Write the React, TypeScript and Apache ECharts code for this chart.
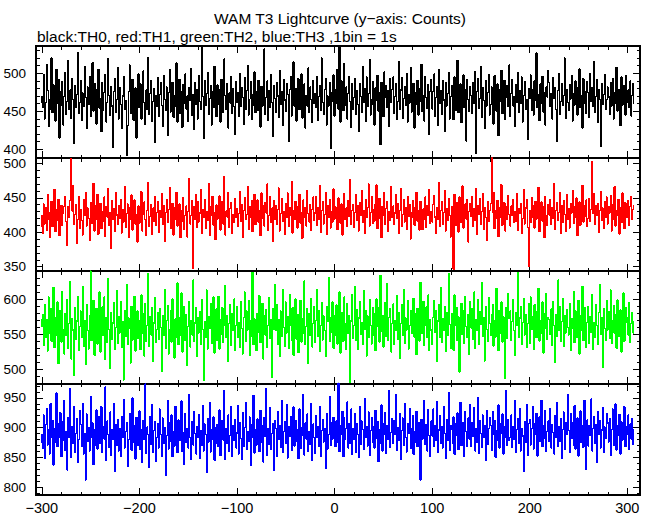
import React, { useEffect, useRef } from "react";
import * as echarts from "echarts";

// ---- time bins (1 bin = 1 s) ----
const BIN_START = -300;
const BIN_SIZE = 1;
const X_MIN = -306;
const X_MAX = 313;
const X_MAJOR = [-300, -200, -100, 0, 100, 200, 300];
const X_MINOR = [-300, -280, -260, -240, -220, -200, -180, -160, -140, -120, -100, -80, -60, -40, -20, 0, 20, 40, 60, 80, 100, 120, 140, 160, 180, 200, 220, 240, 260, 280, 300];

// ---- y tick labels per panel ----
const Y0_LABELS = [400, 450, 500];
const Y0_MINOR = [390, 400, 410, 420, 430, 440, 450, 460, 470, 480, 490, 500, 510, 520, 530];
const Y1_LABELS = [350, 400, 450, 500];
const Y1_MINOR = [350, 360, 370, 380, 390, 400, 410, 420, 430, 440, 450, 460, 470, 480, 490, 500];
const Y2_LABELS = [500, 550, 600];
const Y2_MINOR = [490, 500, 510, 520, 530, 540, 550, 560, 570, 580, 590, 600, 610, 620, 630];
const Y3_LABELS = [800, 850, 900, 950];
const Y3_MINOR = [790, 800, 810, 820, 830, 840, 850, 860, 870, 880, 890, 900, 910, 920, 930, 940, 950, 960, 970];

// ---- counts per bin ----
const TH0 = [
  470,455,498,440,462,512,478,430,466,452,520,448,485,470,437,505,460,492,415,476,
  458,489,432,470,501,446,463,517,452,478,441,493,466,408,484,455,472,527,447,461,
  490,438,474,456,509,468,427,482,459,496,443,471,514,450,487,462,433,479,505,454,
  467,423,488,451,475,498,436,462,519,471,445,483,457,402,476,493,449,466,508,440,
  481,459,427,470,496,452,464,392,431,476,511,447,468,492,438,459,481,415,473,499,
  455,486,440,467,503,461,433,478,452,521,446,474,491,437,463,480,409,470,456,494,
  443,472,488,458,430,497,466,451,482,418,475,505,449,463,488,442,470,457,514,436,
  468,492,447,476,429,485,461,499,453,470,437,481,464,506,445,472,426,488,459,478,
  440,497,463,452,535,470,414,490,458,473,501,446,467,484,432,476,455,509,461,443,
  485,459,478,436,492,465,448,519,470,452,487,428,474,461,496,447,480,456,420,489,
  462,475,443,500,457,481,468,433,494,452,477,510,445,466,489,439,472,458,502,448,
  476,451,491,464,429,483,457,471,532,446,469,490,438,477,455,498,461,417,484,467,
  449,488,470,442,503,459,476,431,492,465,450,487,472,410,479,496,444,468,515,457,
  480,437,466,493,452,474,499,441,463,486,428,471,457,507,448,482,466,435,490,460,
  473,455,496,438,469,484,451,520,462,446,478,493,432,470,457,488,401,475,463,498,
  444,479,461,505,453,536,436,490,467,451,513,458,482,440,474,496,463,429,486,452,
  468,493,446,477,459,423,487,470,448,509,462,480,437,495,456,473,518,445,466,489,
  458,432,481,464,497,450,475,406,488,461,443,502,469,484,455,477,430,493,462,479,
  495,447,470,486,439,463,515,452,478,494,441,467,483,458,500,436,472,461,508,449,
  466,487,428,474,459,491,445,480,463,512,450,471,437,496,468,454,485,419,476,492,
  453,476,499,443,468,482,431,505,460,477,446,490,465,424,488,457,473,501,440,469,
  484,462,439,495,451,474,517,448,470,486,435,463,498,455,479,411,492,466,450,483,
  471,447,488,460,502,394,476,493,454,467,509,442,481,464,427,490,457,474,498,445,
  459,482,465,433,497,471,450,486,418,478,463,504,447,472,491,439,468,484,456,511,
  443,474,492,457,469,430,485,462,501,448,477,460,495,436,471,489,452,466,413,480,
  467,498,451,479,445,490,464,527,455,472,438,486,461,496,449,475,432,482,469,504,
  488,456,473,440,494,467,481,452,410,477,499,446,463,487,458,471,520,441,479,462,
  451,485,466,497,437,473,458,490,469,445,482,506,455,470,428,493,461,476,447,489,
  474,442,500,463,481,456,515,449,470,492,436,478,466,404,487,459,472,498,452,465,
  482,469,446,488,457,493,440,474,461,508,450,479,466,431,495,458,484,470,445,497,
  462,478,455,490,444,471,486,459
];

const TH1 = [
  425,398,441,412,436,403,455,419,392,430,445,408,427,462,401,433,417,448,395,424,
  439,410,428,437,452,415,381,437,421,446,507,431,468,412,426,440,384,419,452,406,
  433,417,396,447,424,458,409,435,420,388,443,413,429,471,402,438,419,455,397,426,
  442,405,430,416,451,394,437,422,463,410,428,376,446,418,434,401,457,425,411,439,
  420,448,399,433,415,466,407,427,441,392,436,419,454,403,430,447,412,425,386,438,
  413,437,459,402,426,444,418,395,432,472,408,423,440,397,435,416,451,410,429,445,
  400,431,421,456,411,439,387,428,447,414,433,465,405,420,442,396,436,418,458,409,
  427,441,392,432,416,450,404,425,438,393,430,478,412,424,446,347,437,419,455,407,
  444,415,428,462,398,433,421,447,406,430,417,471,395,437,425,452,410,428,389,440,
  419,436,453,403,428,445,412,481,396,431,422,458,407,434,443,398,426,414,449,421,
  434,408,427,459,416,440,392,432,450,418,425,466,404,437,421,446,401,429,455,411,
  426,447,415,431,395,457,420,438,409,443,428,470,403,424,452,414,435,387,446,419,
  439,411,433,464,402,427,449,416,430,397,442,421,457,408,436,425,474,399,431,418,
  445,420,406,438,455,413,429,391,447,422,436,409,461,427,415,440,403,433,451,417,
  428,452,410,435,418,467,400,431,444,412,426,458,397,439,421,448,406,430,415,463,
  419,437,426,404,450,430,413,441,396,428,456,418,435,408,446,423,477,411,432,440,
  407,429,454,417,438,402,443,425,461,414,431,398,447,421,436,470,409,428,452,413,
  433,416,441,469,405,427,449,419,392,437,424,458,411,434,445,401,430,417,466,422,
  438,412,428,455,420,442,399,431,463,409,426,447,415,436,404,452,423,440,390,429,
  446,421,410,437,458,416,432,403,445,427,404,434,418,451,407,439,424,462,413,430,
  415,440,453,422,398,436,419,472,408,431,445,411,428,460,402,434,417,449,425,393,
  437,418,346,455,410,443,425,400,451,414,433,467,406,427,441,419,447,386,430,442,
  423,452,408,434,417,463,397,438,426,449,411,430,456,404,436,421,388,444,416,431,
  441,508,429,458,405,432,420,446,394,435,422,469,410,427,443,402,437,418,453,426,
  409,438,424,447,414,430,416,456,403,434,427,441,398,420,462,412,435,448,407,350,
  431,414,450,422,439,406,445,419,433,465,401,428,444,416,437,392,452,424,410,440,
  425,447,411,436,420,471,404,432,443,417,429,458,399,438,414,446,426,401,455,419,
  434,406,442,428,461,413,437,421,450,395,431,444,410,426,468,415,439,423,447,408,
  420,449,416,433,503,427,456,411,438,425,442,400,431,459,417,435,406,444,422,451,
  412,437,428,453,402,440,419,466,409,432,424,448,397,436,414,457,426,405,443,430,
  421,446,410,438,452,418,433,440
];

const TH2 = [
  560,578,534,592,545,571,526,603,552,587,540,566,617,531,574,549,596,508,563,584,
  539,611,557,522,580,548,599,530,566,625,515,572,556,491,588,543,569,604,527,561,
  583,546,618,533,570,507,592,555,529,576,640,541,564,598,520,553,587,536,571,610,
  525,562,589,548,603,514,574,538,629,557,502,581,543,566,595,529,560,612,537,575,
  552,596,531,568,485,584,547,621,535,573,558,509,590,542,567,604,526,561,583,544,
  570,528,606,551,579,519,594,540,563,636,533,575,549,588,512,566,602,538,557,581,
  543,587,560,497,577,548,614,530,569,591,522,556,584,539,600,553,516,572,545,623,
  535,573,548,609,525,564,590,541,578,506,561,596,532,570,549,627,540,566,588,519,
  574,552,582,536,599,557,484,568,545,613,529,575,558,594,537,565,603,523,556,586,
  541,604,529,571,550,588,538,562,619,545,577,511,565,592,534,579,555,600,527,563,
  589,545,567,531,597,558,522,574,610,540,583,556,598,520,569,547,638,535,572,551,
  527,580,553,605,538,567,594,515,576,549,585,531,563,602,544,571,489,586,557,620,
  555,592,536,571,518,583,547,614,560,533,596,552,575,530,607,563,541,588,520,567,
  600,543,578,524,565,598,539,572,552,626,535,561,587,509,579,548,601,532,566,590,
  538,570,613,547,583,526,562,595,542,576,556,519,589,568,631,540,573,553,596,530,
  577,549,592,536,568,610,523,581,558,540,603,565,528,594,551,577,482,569,606,544,
  562,618,541,585,529,573,597,550,566,535,612,557,584,519,576,545,599,563,536,588,
  548,579,527,600,561,588,539,634,554,577,532,568,595,547,622,541,574,587,525,566,
  593,535,570,555,605,543,581,516,565,592,549,614,537,573,556,598,529,562,584,551,
  569,601,546,579,521,587,560,540,624,551,578,597,534,563,589,545,606,527,571,556,
  536,574,598,553,584,512,569,592,545,616,538,572,555,590,526,581,548,636,564,530,
  580,552,527,606,563,588,541,575,496,567,594,550,583,537,604,561,545,578,521,597,
  559,586,543,610,530,571,555,599,536,582,564,623,547,574,512,590,557,540,602,566,
  548,578,592,533,569,546,615,560,527,584,551,596,539,575,563,487,588,544,608,572,
  583,541,568,599,555,520,581,562,638,545,573,590,536,567,601,549,578,531,565,594,
  537,603,557,575,528,592,566,545,583,615,540,569,551,596,523,580,558,608,543,574,
  571,550,586,534,597,562,510,578,547,627,555,589,540,568,601,533,576,552,585,560,
  549,594,527,572,558,611,538,583,565,545,598,522,577,556,618,541,570,588,531,567,
  590,537,575,553,606,529,567,545,592,562,535,581,621,550,574,503,586,558,541,598,
  556,582,544,613,537,569,591,552,578,530,599,563,547,585,525,572,609,540,566,588,
  573,549,595,538,566,581,552,569
];

const TH3 = [
  890,865,921,848,905,932,871,897,856,940,883,912,837,899,875,958,868,906,884,925,
  851,910,878,946,862,893,829,917,884,965,850,902,873,936,858,890,915,842,880,928,
  905,869,941,856,890,812,923,877,900,861,952,884,908,838,896,871,930,864,887,919,
  873,935,858,902,881,968,845,911,889,867,926,853,897,880,941,826,905,870,914,861,
  899,852,918,884,947,866,893,908,835,879,924,891,862,950,876,903,847,917,885,870,
  928,863,896,841,912,880,973,857,901,888,833,919,872,938,859,895,910,844,883,906,
  866,931,889,852,916,874,900,820,887,945,864,908,877,921,851,894,869,936,882,858,
  913,878,903,945,860,891,838,924,875,899,866,955,883,847,910,871,927,890,856,902,
  884,922,849,895,870,937,861,906,888,825,915,876,942,859,897,881,918,845,900,873,
  905,868,930,853,891,912,879,962,846,898,874,921,860,887,935,851,903,878,914,866,
  891,937,856,909,882,847,925,869,900,942,863,894,877,918,836,905,883,954,857,896,
  871,915,889,860,929,876,903,842,917,885,966,853,898,872,933,864,890,907,828,911,
  898,852,926,880,904,867,945,858,893,910,874,939,849,902,885,919,862,890,935,869,
  912,877,896,848,931,865,900,887,956,854,908,881,923,860,894,872,941,845,906,883,
  857,920,883,902,869,936,851,895,913,876,899,832,924,864,889,952,870,908,881,917,
  893,868,911,876,975,860,903,889,927,851,916,880,898,943,866,907,874,931,855,899,
  880,924,859,906,888,850,935,872,911,897,863,949,884,902,869,926,853,895,917,876,
  901,866,929,882,910,843,897,874,938,861,906,889,925,857,903,880,962,867,892,915,
  874,912,888,955,862,900,879,923,847,895,916,870,941,884,859,907,890,932,865,898,
  920,855,894,876,927,868,909,890,812,914,881,899,946,872,905,861,930,887,851,911,
  886,931,869,903,878,944,859,896,920,874,901,866,935,890,848,913,879,959,862,904,
  897,873,918,855,906,887,925,863,899,942,870,909,884,852,927,893,868,916,881,939,
  869,908,885,934,861,899,876,950,857,912,890,867,921,883,904,845,928,872,898,917,
  903,862,927,889,912,850,895,879,938,866,906,891,923,856,901,884,962,870,913,878,
  884,921,867,902,880,945,858,897,915,873,932,861,898,886,826,910,875,939,853,906,
  913,871,898,936,864,907,889,924,852,895,918,877,946,868,903,882,929,860,894,911,
  877,932,866,905,891,856,920,884,942,869,902,877,915,848,897,926,863,908,889,955,
  895,858,924,882,909,871,937,864,898,916,852,892,928,875,904,867,946,886,830,913,
  869,903,887,948,861,899,919,874,905,842,927,889,912,866,896,934,858,901,882,924,
  908,876,915,853,897,931,870,892,940,862,904,887,922,856,910,879,898,935,868,901,
  889,921,863,906,881,915,872,897
];

const TITLE = "WAM T3 Lightcurve (y\u2212axis: Counts)";
const SUBTITLE = "black:TH0, red:TH1, green:TH2, blue:TH3 ,1bin = 1s";

const FONT = '"Liberation Sans", Arial, Helvetica, sans-serif';

const PANELS = [
  { name: "TH0", data: TH0, color: "#000000", min: 388.5, max: 536, labels: Y0_LABELS, minor: Y0_MINOR, top: 46, height: 112, pad: [0, 0, 2, 0] },
  { name: "TH1", data: TH1, color: "#ff0000", min: 343.8, max: 507.7, labels: Y1_LABELS, minor: Y1_MINOR, top: 158, height: 113, pad: [2, 0, 0, 0] },
  { name: "TH2", data: TH2, color: "#00ff00", min: 480, max: 640, labels: Y2_LABELS, minor: Y2_MINOR, top: 271, height: 112.5, pad: [0, 0, 0, 0] },
  { name: "TH3", data: TH3, color: "#0000ff", min: 787, max: 974, labels: Y3_LABELS, minor: Y3_MINOR, top: 383.5, height: 112.5, pad: [0, 0, 0, 0] },
];

function buildOption() {
  const grids: any[] = [];
  const xAxes: any[] = [];
  const yAxes: any[] = [];
  const series: any[] = [];
  const lineOn = { show: true, onZero: false, lineStyle: { color: "#000", width: 2 } };
  const lineOff = { show: false, onZero: false };
  const tick = (values: number[], len: number) => ({
    show: true,
    inside: true,
    length: len,
    customValues: values,
    lineStyle: { color: "#000", width: 1 },
  });

  PANELS.forEach((p, i) => {
    grids.push({ left: 36, width: 604, top: p.top, height: p.height, containLabel: false });
    const last = i === PANELS.length - 1;
    const xBase = { type: "value", gridIndex: i, min: X_MIN, max: X_MAX, splitLine: { show: false } };
    xAxes.push({
      ...xBase,
      position: "bottom",
      axisLine: lineOn,
      axisTick: tick(X_MAJOR, 7),
      axisLabel: last
        ? {
            show: true,
            customValues: X_MAJOR,
            color: "#000",
            fontSize: 14.5,
            fontFamily: FONT,
            margin: 5,
            formatter: (v: number) => String(v).replace("-", "\u2212"),
          }
        : { show: false },
    });
    xAxes.push({ ...xBase, position: "bottom", axisLine: lineOff, axisTick: tick(X_MINOR, 3.5), axisLabel: { show: false } });
    xAxes.push({ ...xBase, position: "top", axisLine: lineOn, axisTick: tick(X_MAJOR, 7), axisLabel: { show: false } });
    xAxes.push({ ...xBase, position: "top", axisLine: lineOff, axisTick: tick(X_MINOR, 3.5), axisLabel: { show: false } });

    const yBase = { type: "value", gridIndex: i, min: p.min, max: p.max, splitLine: { show: false } };
    yAxes.push({
      ...yBase,
      position: "left",
      axisLine: lineOn,
      axisTick: tick(p.labels, 7),
      axisLabel: {
        show: true,
        customValues: p.labels,
        color: "#000",
        fontSize: 13.5,
        lineHeight: 12,
        padding: p.pad,
        fontFamily: FONT,
        margin: 10,
      },
    });
    yAxes.push({ ...yBase, position: "left", axisLine: lineOff, axisTick: tick(p.minor, 3.5), axisLabel: { show: false } });
    yAxes.push({ ...yBase, position: "right", axisLine: lineOn, axisTick: tick(p.labels, 7), axisLabel: { show: false } });
    yAxes.push({ ...yBase, position: "right", axisLine: lineOff, axisTick: tick(p.minor, 3.5), axisLabel: { show: false } });

    series.push({
      name: p.name,
      type: "line",
      xAxisIndex: i * 4,
      yAxisIndex: i * 4,
      step: "middle",
      symbol: "none",
      showSymbol: false,
      silent: true,
      clip: true,
      lineStyle: { color: p.color, width: 1.3 },
      data: p.data.map((v, k) => [BIN_START + k * BIN_SIZE, v]),
      z: 1,
    });
  });

  return {
    animation: false,
    backgroundColor: "#ffffff",
    grid: grids,
    xAxis: xAxes,
    yAxis: yAxes,
    series,
    graphic: [
      {
        type: "text",
        x: 340,
        y: 18,
        style: {
          text: TITLE,
          fill: "#000",
          font: `15.5px ${FONT}`,
          textAlign: "center",
          textVerticalAlign: "middle",
        },
      },
      {
        type: "text",
        x: 37,
        y: 36,
        style: {
          text: SUBTITLE,
          fill: "#000",
          font: `15.5px ${FONT}`,
          textAlign: "left",
          textVerticalAlign: "middle",
        },
      },
    ],
  };
}

export default function App() {
  const ref = useRef<HTMLDivElement>(null);
  useEffect(() => {
    if (!ref.current) return;
    const chart = echarts.init(ref.current, undefined, { renderer: "svg" });
    chart.setOption(buildOption() as any);
    const svg = ref.current.querySelector("svg");
    if (svg) svg.setAttribute("shape-rendering", "crispEdges");
    return () => chart.dispose();
  }, []);
  return (
    <div
      ref={ref}
      style={{ position: "absolute", left: 0, top: 0, width: 652, height: 515, background: "#fff" }}
    />
  );
}
